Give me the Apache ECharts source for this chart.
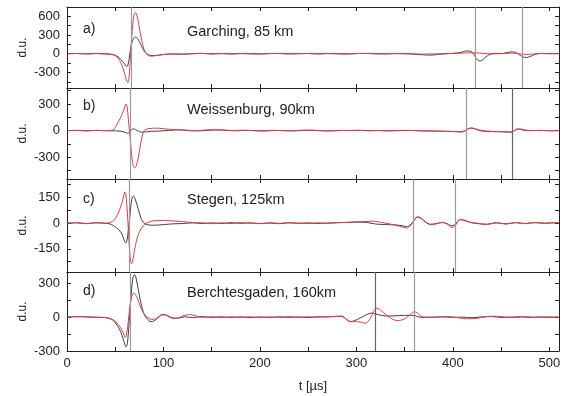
<!DOCTYPE html>
<html>
<head>
<meta charset="utf-8">
<script src="https://cdn.jsdelivr.net/npm/echarts@6/dist/echarts.min.js"></script>
<style>
html,body{margin:0;padding:0;background:#fff;}
#chart{width:568px;height:396px;}
</style>
</head>
<body>
<div id="chart"></div>
<script>
// ---------- data ----------
const xTicks = [0,50,100,150,200,250,300,350,400,450,500];
const xLabels = [0,100,200,300,400,500];
const titles = ['Garching, 85 km','Weissenburg, 90km','Stegen, 125km','Berchtesgaden, 160km'];
const tags = ['a)','b)','c)','d)'];

const aBlack = [[0,0],[10,4],[20,-3],[30,3],[40,-2],[45,-6],[48,-15],[50,-25],[53,-50],[56,-95],[59,-150],[61,-195],[62,-205],[63,-190],[64,-120],[65,-20],[66,80],[67,160],[68,210],[69,245],[70,262],[71,268],[72,262],[73,245],[75,195],[77,130],[79,70],[81,25],[84,-12],[88,-30],[92,-30],[96,-22],[100,-12],[110,-5],[120,-8],[130,0],[140,4],[150,-3],[160,2],[170,-4],[180,3],[190,0],[200,-3],[210,2],[220,4],[230,-2],[240,0],[250,3],[260,-3],[270,2],[280,0],[290,-4],[300,2],[310,5],[320,0],[330,-3],[340,2],[350,0],[360,-8],[370,-18],[377,-22],[385,-10],[395,2],[405,12],[410,28],[414,45],[418,40],[421,10],[424,-70],[427,-115],[430,-108],[434,-55],[438,-12],[444,6],[450,2],[455,14],[460,30],[464,26],[468,-8],[472,-45],[476,-62],[480,-45],[485,-12],[490,4],[500,0],[510,3]];
const aRed = [[0,0],[10,3],[20,-2],[30,2],[40,-3],[45,-8],[48,-18],[50,-30],[53,-70],[56,-150],[59,-280],[61,-390],[62,-440],[63,-465],[64,-420],[65,-250],[66,0],[67,250],[68,450],[69,580],[70,645],[71,660],[72,640],[73,580],[75,420],[77,250],[79,110],[81,30],[83,-15],[86,-38],[90,-35],[95,-22],[100,-12],[110,-4],[120,-6],[130,2],[140,5],[150,-2],[160,3],[170,-3],[180,2],[190,-1],[200,-4],[210,3],[220,3],[230,-3],[240,1],[250,4],[260,-2],[270,3],[280,-1],[290,-3],[300,3],[310,4],[320,-1],[330,-2],[340,3],[350,1],[360,-3],[370,-6],[380,-4],[390,0],[400,4],[410,10],[418,15],[425,14],[432,4],[440,-2],[450,2],[460,8],[466,6],[472,-8],[478,-12],[485,-2],[495,3],[510,0]];

const bBlack = [[0,0],[10,3],[20,-2],[30,2],[40,-1],[50,-3],[55,-6],[58,-12],[61,-22],[63,-30],[65,-15],[67,10],[69,20],[71,12],[74,-8],[78,-18],[82,-14],[88,-8],[95,-5],[105,2],[115,8],[125,4],[135,-3],[145,2],[155,8],[165,5],[175,-2],[185,3],[195,0],[205,-4],[215,2],[225,0],[235,-3],[245,2],[255,4],[265,-1],[275,-3],[285,2],[295,0],[305,3],[315,-2],[325,1],[335,-3],[345,0],[355,2],[365,-1],[375,-4],[385,-6],[395,-8],[405,-12],[410,-15],[414,5],[418,28],[422,22],[428,0],[435,-10],[445,-12],[455,-15],[460,-18],[463,-5],[467,18],[471,10],[478,0],[490,3],[500,-2],[510,0]];
const bRed = [[0,0],[10,2],[20,-3],[30,3],[40,0],[45,2],[48,10],[50,35],[52,75],[54,115],[56,160],[58,210],[60,270],[61,300],[62,290],[63,200],[64,80],[65,-30],[66,-150],[67,-270],[68,-360],[69,-405],[70,-420],[71,-415],[72,-390],[74,-300],[76,-170],[78,-60],[80,0],[83,18],[87,25],[92,28],[100,22],[110,12],[120,6],[130,-2],[140,4],[150,10],[160,6],[170,0],[180,4],[190,1],[200,-3],[210,3],[220,1],[230,-2],[240,3],[250,5],[260,0],[270,-2],[280,3],[290,1],[300,4],[310,-1],[320,2],[330,-2],[340,1],[350,3],[360,0],[370,-3],[380,-5],[390,-8],[400,-10],[408,-14],[412,0],[416,22],[420,30],[424,18],[430,2],[440,-8],[450,-10],[458,-15],[462,-12],[465,8],[469,20],[474,10],[480,0],[490,2],[500,-1],[510,0]];

const cBlack = [[0,0],[10,2],[20,-3],[30,3],[40,-1],[45,-5],[48,-14],[51,-25],[54,-40],[57,-65],[59,-95],[60,-110],[61,-115],[62,-105],[63,-70],[64,-20],[65,30],[66,90],[67,135],[68,155],[69,158],[70,150],[71,135],[73,100],[75,60],[77,25],[80,0],[84,-10],[90,-12],[100,-8],[110,-4],[120,-2],[130,2],[140,-2],[150,2],[160,-2],[170,3],[180,-1],[190,2],[200,-2],[210,1],[220,-3],[230,2],[240,-1],[250,2],[260,-2],[270,1],[280,3],[290,4],[300,6],[310,5],[320,-5],[330,-8],[340,-10],[348,-15],[352,-20],[356,-10],[360,18],[363,35],[367,28],[372,6],[377,-6],[383,-2],[389,4],[394,-3],[399,-15],[403,-5],[407,20],[411,18],[418,4],[425,-2],[435,-6],[445,2],[455,-4],[465,3],[475,-2],[485,3],[495,-1],[505,2],[510,0]];
const cRed = [[0,0],[10,3],[20,-2],[30,2],[40,0],[45,5],[48,15],[51,35],[54,70],[57,120],[59,165],[60,183],[61,170],[62,110],[63,20],[64,-80],[65,-170],[66,-225],[67,-237],[68,-225],[69,-190],[71,-130],[73,-80],[76,-40],[80,-10],[84,5],[90,14],[100,16],[110,13],[120,9],[130,4],[140,2],[150,-3],[160,2],[170,-2],[180,3],[190,0],[200,-3],[210,2],[220,-1],[230,3],[240,0],[250,-2],[260,2],[270,-1],[280,3],[290,5],[300,8],[310,10],[318,12],[325,5],[335,-5],[345,-18],[352,-28],[356,-15],[360,20],[363,38],[367,30],[372,5],[377,-10],[383,-4],[389,5],[394,-5],[399,-25],[403,-10],[407,22],[411,20],[418,5],[425,0],[435,-8],[445,3],[455,-5],[465,4],[475,-3],[485,5],[495,0],[505,4],[510,2]];

const dBlack = [[0,0],[10,4],[20,2],[30,-2],[40,-5],[45,-15],[48,-30],[51,-60],[54,-100],[57,-160],[59,-215],[61,-262],[62,-255],[63,-200],[64,-100],[65,20],[66,140],[67,250],[68,330],[69,368],[70,375],[71,365],[72,330],[74,240],[76,150],[78,80],[80,25],[83,-15],[87,-40],[90,-35],[94,-8],[98,22],[102,20],[106,2],[110,-10],[116,-8],[122,3],[130,-4],[140,5],[150,-2],[160,3],[170,-3],[180,2],[190,-5],[200,2],[210,-3],[220,3],[230,-2],[240,2],[250,-4],[260,3],[270,2],[280,6],[285,5],[290,-20],[293,-38],[297,-35],[302,-15],[308,10],[312,28],[316,36],[320,28],[326,15],[335,10],[345,14],[355,16],[360,15],[364,2],[370,-2],[380,0],[390,3],[400,-2],[410,0],[420,-5],[430,2],[440,5],[450,-2],[460,0],[470,4],[480,-3],[490,2],[500,-2],[510,0]];
const dRed = [[0,0],[10,5],[20,3],[30,-1],[40,-3],[45,-12],[48,-25],[51,-45],[54,-75],[57,-115],[59,-155],[60,-178],[61,-175],[62,-140],[63,-80],[64,0],[65,80],[66,140],[67,180],[68,205],[69,212],[70,210],[71,200],[73,165],[75,120],[77,75],[80,30],[84,-5],[88,-20],[92,-15],[96,8],[100,22],[104,15],[108,-2],[114,-10],[120,10],[126,22],[132,15],[140,-2],[150,3],[160,-3],[170,2],[180,-2],[190,3],[200,-4],[210,2],[220,-2],[230,4],[240,-2],[250,3],[260,0],[270,4],[280,8],[285,10],[290,-25],[294,-40],[300,-40],[305,-45],[309,-54],[312,-40],[315,0],[318,50],[321,80],[324,70],[328,40],[333,5],[338,-20],[342,-31],[347,-25],[352,-5],[356,25],[360,48],[363,40],[366,15],[370,0],[380,0],[395,5],[405,-5],[415,-15],[425,-10],[435,5],[445,8],[455,0],[465,-3],[475,4],[485,-2],[495,3],[510,0]];

const yRanges = [[-550,750],[-545,480],[-285,258],[-300,400]];
const yTickVals = [[-450,-300,-150,0,150,300,450,600],[-450,-300,-150,0,150,300,450],[-225,-150,-75,0,75,150,225],[-300,-150,0,150,300]];
const yLabelVals = [[-300,0,300,600],[-300,0,300],[-150,0,150],[-300,0,300]];

const vlineTimes = [[66.8,423,472],[65.8,414,462],[65,359,402],[65.8,320,359.5]];
const vlineDark = [[false,false,false],[false,false,true],[false,false,false],[false,true,false]];

// ---------- layout ----------
const gridBoxes = [[7,81],[88,91],[179,93],[272,79]];
const FONT = "'Liberation Sans', Arial, sans-serif";
const blacks = [aBlack,bBlack,cBlack,dBlack];
const reds = [aRed,bRed,cRed,dRed];

const grids=[], xAxes=[], yAxes=[], series=[], graphics=[];
const axisLine = {show:true, onZero:false, lineStyle:{color:'#222', width:1}};
for (let i=0;i<4;i++){
  grids.push({left:67, right:9, top:gridBoxes[i][0], height:gridBoxes[i][1], containLabel:false});
  const last = i===3;
  xAxes.push({type:'value', gridIndex:i, position:'bottom', min:0, max:510,
    axisLine, splitLine:{show:false},
    axisTick:{show:true, inside:true, length:4, lineStyle:{color:'#222'}, customValues:xTicks},
    axisLabel:{show:last, customValues:xLabels, margin:6, fontSize:13, color:'#222', fontFamily:FONT},
    name: last ? 't [µs]' : '', nameLocation:'middle', nameGap:29, nameMoveOverlap:false,
    nameTextStyle:{fontSize:13, color:'#222', fontFamily:FONT}});
  xAxes.push({type:'value', gridIndex:i, position:'top', min:0, max:510,
    axisLine, splitLine:{show:false},
    axisTick:{show:true, inside:true, length:4, lineStyle:{color:'#222'}, customValues:xTicks},
    axisLabel:{show:false}});
  yAxes.push({type:'value', gridIndex:i, position:'left', min:yRanges[i][0], max:yRanges[i][1],
    axisLine, splitLine:{show:false},
    axisTick:{show:true, inside:true, length:4, lineStyle:{color:'#222'}, customValues:yTickVals[i]},
    axisLabel:{show:true, customValues:yLabelVals[i], margin:7, fontSize:13, color:'#222', fontFamily:FONT},
    name:'d.u.', nameLocation:'middle', nameGap:38, nameMoveOverlap:false,
    nameTextStyle:{fontSize:12, color:'#222', fontFamily:FONT}});
  yAxes.push({type:'value', gridIndex:i, position:'right', min:yRanges[i][0], max:yRanges[i][1],
    axisLine, splitLine:{show:false},
    axisTick:{show:true, inside:true, length:4, lineStyle:{color:'#222'}, customValues:yTickVals[i]},
    axisLabel:{show:false}});

  series.push({type:'line', xAxisIndex:2*i, yAxisIndex:2*i, data:blacks[i], showSymbol:false, symbol:'none',
    smooth:0.3, lineStyle:{color:'#404040', width:1}, z:3,
    markLine:{silent:true, symbol:['none','none'], label:{show:false}, animation:false,
      data: vlineTimes[i].map((t,k)=>({xAxis:t, lineStyle:{color: vlineDark[i][k] ? '#666' : '#9a9a9a', width:1.2, type:'solid'}}))}});
  series.push({type:'line', xAxisIndex:2*i, yAxisIndex:2*i, data:reds[i], showSymbol:false, symbol:'none',
    smooth:0.3, lineStyle:{color:'#e63c45', width:1}, z:4});

  const tagY = [30,107,200,292][i];
  const titleY = [32,110,200,293][i];
  graphics.push({type:'text', left:83, top:tagY-8, style:{text:tags[i], font:'14px '+FONT, fill:'#222'}});
  graphics.push({type:'text', left:187, top:titleY-8, style:{text:titles[i], font:'14.5px '+FONT, fill:'#222'}});
}

const chart = echarts.init(document.getElementById('chart'), null, {renderer:'canvas'});
chart.setOption({animation:false, backgroundColor:'#fff', grid:grids, xAxis:xAxes, yAxis:yAxes, series, graphic:graphics});
</script>
</body>
</html>
